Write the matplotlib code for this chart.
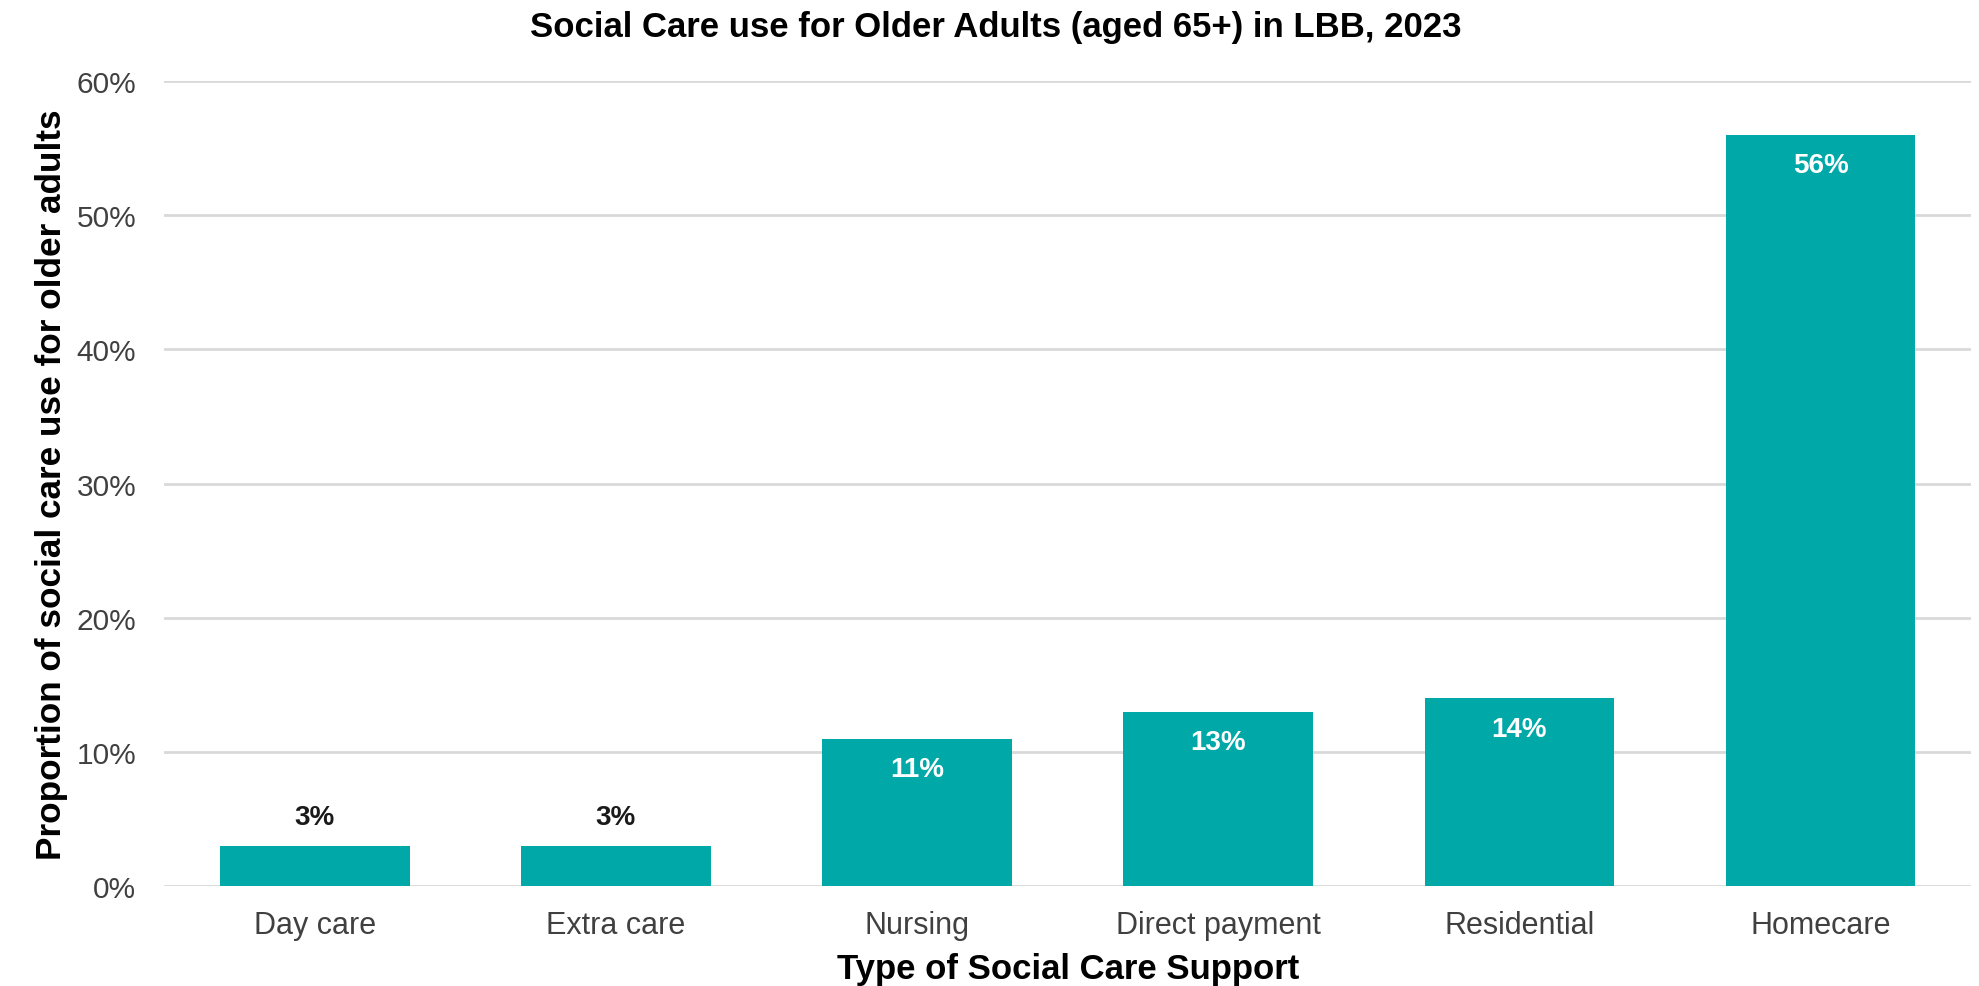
import matplotlib
matplotlib.use("Agg")
import matplotlib.pyplot as plt
import numpy as np

plt.rcParams['font.family'] = ['Liberation Sans', 'DejaVu Sans']

categories = ['Day care', 'Extra care', 'Nursing', 'Direct payment', 'Residential', 'Homecare']
values = [3, 3, 11, 13, 14, 56]
y_ticks = [0, 10, 20, 30, 40, 50, 60]

bar_color = '#00A8A8'
text_grey = '#404040'

fig = plt.figure(figsize=(19.79, 9.87), dpi=100)
ax = fig.add_axes([0.083, 0.101, 0.913, 0.816])

x = np.arange(len(categories))
bars = ax.bar(x, values, width=0.63, color=bar_color, zorder=3)

# value labels: small bars get them on top, the rest inside in white
for xi, v in zip(x, values):
    if v < 5:
        ax.annotate(f'{v}%', (xi, v), xytext=(0, 21), textcoords='offset points',
                    ha='center', va='center', fontsize=20, fontweight='bold', color='#1a1a1a')
    else:
        ax.annotate(f'{v}%', (xi, v), xytext=(0, -22), textcoords='offset points',
                    ha='center', va='center', fontsize=20, fontweight='bold', color='white')

ax.set_xlim(-0.5, len(categories) - 0.5)
ax.set_ylim(0, 60)
ax.set_yticks(y_ticks)
ax.set_yticklabels([f'{t}%' for t in y_ticks])
ax.set_xticks(x)
ax.set_xticklabels(categories)

ax.tick_params(axis='y', length=0, pad=20, labelsize=21.5, labelcolor=text_grey)
ax.tick_params(axis='x', length=0, pad=17, labelsize=22, labelcolor=text_grey)

ax.grid(axis='y', color='#d9d9d9', linewidth=2, zorder=0)
for s in ax.spines.values():
    s.set_visible(False)

# title is centred on the whole figure, not the axes
fig.suptitle('Social Care use for Older Adults (aged 65+) in LBB, 2023',
             x=0.503, y=0.972, va='center', fontsize=25, fontweight='bold')
ax.set_xlabel('Type of Social Care Support', fontsize=25, fontweight='bold', labelpad=9)
ax.set_ylabel('Proportion of social care use for older adults', fontsize=25.3,
              fontweight='bold', labelpad=6)

fig.savefig('out.png', dpi=100)
